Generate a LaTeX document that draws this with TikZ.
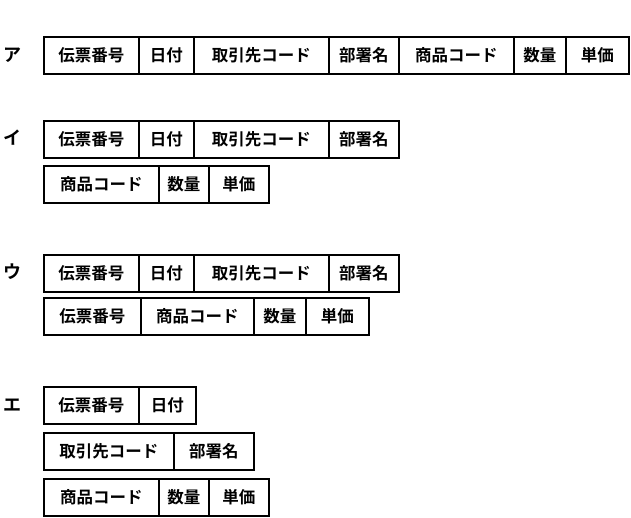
\documentclass[tikz,border=0pt]{standalone}
\usepackage{fontspec}
\newfontfamily\cjk{Noto Sans CJK JP Bold}
\begin{document}
\begin{tikzpicture}[x=1pt,y=-1pt,
  cell/.style={draw,line width=1.5pt,anchor=north west,inner sep=0pt,font=\cjk\fontsize{16.5}{16.5}\selectfont},
  lab/.style={font=\cjk\fontsize{18}{18}\selectfont,inner sep=0pt}]
\useasboundingbox (0,0) rectangle (631,517);
\newcommand\cellat[5]{\node[cell,minimum width=#3-#2,minimum height=37] (#5) at (#2,#1) {#4};}
% ア
\node[lab] (la) at (12,55) {ア};
\cellat{36}{43}{138}{伝票番号}{a1}
\cellat{36}{138}{193}{日付}{a2}
\cellat{36}{193}{328}{取引先コード}{a3}
\cellat{36}{328}{398}{部署名}{a4}
\cellat{36}{398}{513}{商品コード}{a5}
\cellat{36}{513}{565}{数量}{a6}
\cellat{36}{565}{628}{単価}{a7}
% イ
\node[lab] (li) at (12,138) {イ};
\cellat{120}{43}{138}{伝票番号}{b1}
\cellat{120}{138}{193}{日付}{b2}
\cellat{120}{193}{328}{取引先コード}{b3}
\cellat{120}{328}{398}{部署名}{b4}
\cellat{165}{43}{158}{商品コード}{b5}
\cellat{165}{158}{208}{数量}{b6}
\cellat{165}{208}{268}{単価}{b7}
% ウ
\node[lab] (lu) at (12,272) {ウ};
\cellat{254}{43}{138}{伝票番号}{c1}
\cellat{254}{138}{193}{日付}{c2}
\cellat{254}{193}{328}{取引先コード}{c3}
\cellat{254}{328}{398}{部署名}{c4}
\cellat{297}{43}{140}{伝票番号}{c5}
\cellat{297}{140}{253}{商品コード}{c6}
\cellat{297}{253}{305}{数量}{c7}
\cellat{297}{305}{368}{単価}{c8}
% エ
\node[lab] (le) at (12,405) {エ};
\cellat{386}{43}{138}{伝票番号}{d1}
\cellat{386}{138}{195}{日付}{d2}
\cellat{432}{43}{173}{取引先コード}{d3}
\cellat{432}{173}{253}{部署名}{d4}
\cellat{478}{43}{158}{商品コード}{d5}
\cellat{478}{158}{208}{数量}{d6}
\cellat{478}{208}{268}{単価}{d7}
\end{tikzpicture}
\end{document}
